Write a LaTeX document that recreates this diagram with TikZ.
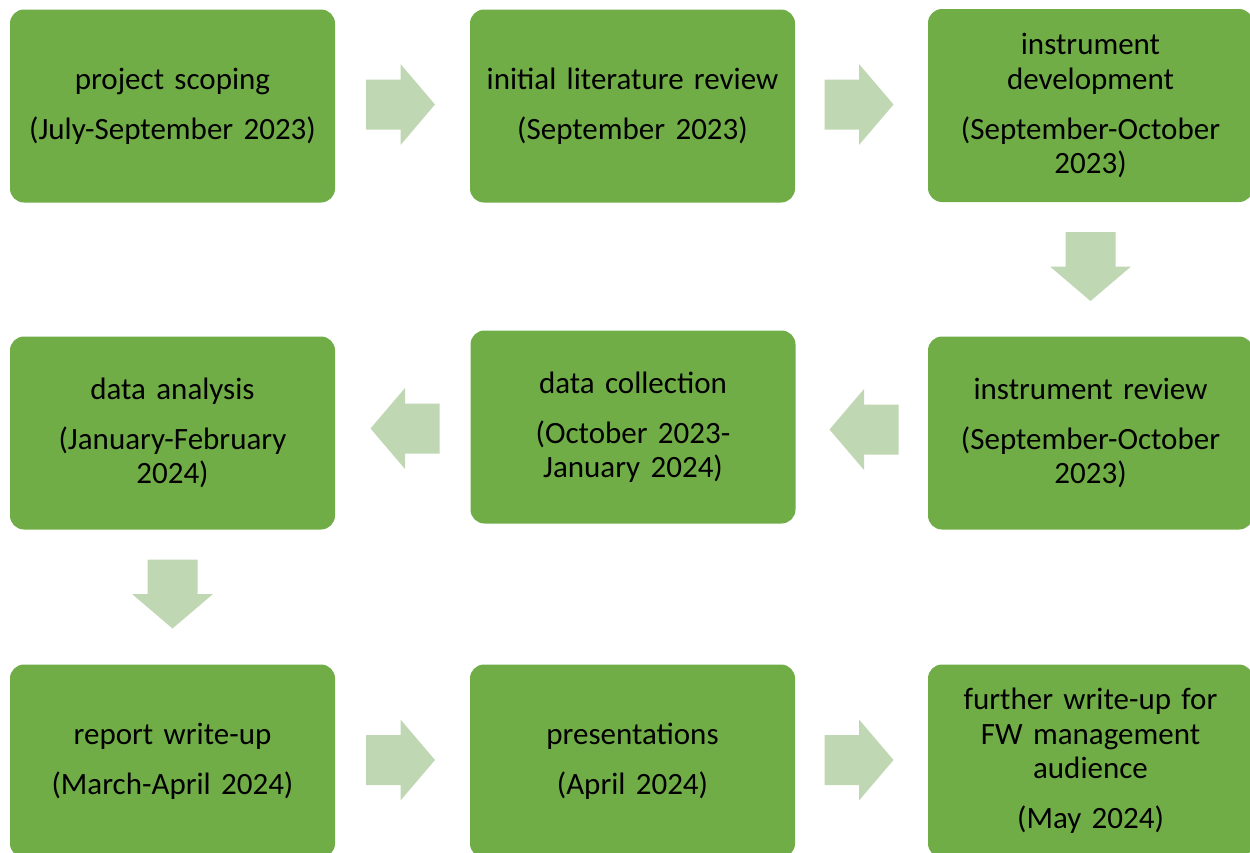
\documentclass[tikz,border=0pt]{standalone}
\usepackage{fontspec}
\setmainfont{Carlito}[WordSpace=0.85]
\definecolor{boxgreen}{HTML}{70AD47}
\definecolor{arrowgreen}{HTML}{BFD7B3}
\begin{document}
\begin{tikzpicture}[x=1pt,y=-1pt,
  stepbox/.style={rectangle, rounded corners=14pt, fill=boxgreen, draw=none,
    minimum width=325pt, minimum height=193pt, inner sep=0pt,
    align=center, text width=315pt, font=\fontsize{31}{34.5}\selectfont},
  blockfill/.style={fill=arrowgreen, draw=none}]
\useasboundingbox (0,0) rectangle (1250,852);
\clip (0,0) rectangle (1250,852);

% row 1
\node[stepbox] (b1) at (172.5,106) {project scoping\\[15.5pt](July-September 2023)};
\node[stepbox] (b2) at (632.5,106) {initial literature review\\[15.5pt](September 2023)};
\node[stepbox] (b3) at (1090.5,105.5) {instrument\\development\\[15.5pt](September-October\\2023)};
% row 2
\node[stepbox] (b6) at (172.5,433) {data analysis\\[15.5pt](January-February\\2024)};
\node[stepbox] (b5) at (633,427) {data collection\\[15.5pt](October 2023-\\January 2024)};
\node[stepbox] (b4) at (1090.5,433) {instrument review\\[15.5pt](September-October\\2023)};
% row 3
\node[stepbox] (b7) at (172.5,761) {report write-up\\[15.5pt](March-April 2024)};
\node[stepbox] (b8) at (632.5,761) {presentations\\[15.5pt](April 2024)};
\node[stepbox] (b9) at (1090.5,761) {further write-up for\\FW management\\audience\\[15.5pt](May 2024)};

% block arrows
\newcommand{\rarrow}[1]{\fill[blockfill,shift={#1}] (-34.5,-25) -- (0,-25) -- (0,-40.5) -- (34.5,0) -- (0,40.5) -- (0,25) -- (-34.5,25) -- cycle;}
\newcommand{\larrow}[1]{\fill[blockfill,shift={#1}] (34.5,-25) -- (0,-25) -- (0,-40.5) -- (-34.5,0) -- (0,40.5) -- (0,25) -- (34.5,25) -- cycle;}
\newcommand{\darrow}[1]{\fill[blockfill,shift={#1}] (-25,-34.5) -- (-25,0) -- (-40.5,0) -- (0,34.5) -- (40.5,0) -- (25,0) -- (25,-34.5) -- cycle;}

\coordinate (a12) at (400.5,104.5);
\coordinate (a23) at (859,104.5);
\coordinate (a34) at (1090.5,266.5);
\coordinate (a45) at (864,429.5);
\coordinate (a56) at (405,428.5);
\coordinate (a67) at (172.5,594);
\coordinate (a78) at (400.5,760);
\coordinate (a89) at (859,760);

\rarrow{(a12)}
\rarrow{(a23)}
\darrow{(a34)}
\larrow{(a45)}
\larrow{(a56)}
\darrow{(a67)}
\rarrow{(a78)}
\rarrow{(a89)}
\end{tikzpicture}
\end{document}
